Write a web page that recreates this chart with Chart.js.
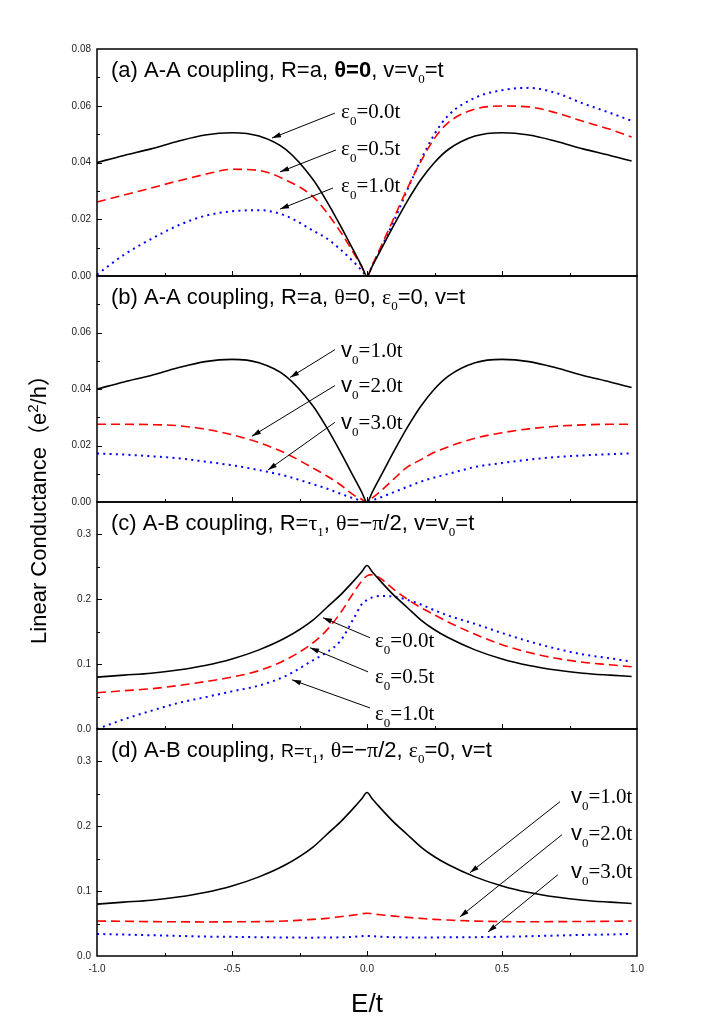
<!DOCTYPE html>
<html>
<head>
<meta charset="utf-8">
<script src="https://cdn.jsdelivr.net/npm/chart.js@4.4.0/dist/chart.umd.min.js"></script>
<style>
body { margin: 0; background: #fff; }
#wrap { position: relative; width: 702px; height: 1025px; }
canvas { position: absolute; left: 0; top: 0; }
</style>
</head>
<body>
<div id="wrap">
<canvas id="pa" width="702" height="1025"></canvas>
<canvas id="pb" width="702" height="1025"></canvas>
<canvas id="pc" width="702" height="1025"></canvas>
<canvas id="pd" width="702" height="1025"></canvas>
</div>
<script>
// E/t sample points (shared by all panels)
const energy = [-1, -0.9, -0.8, -0.7, -0.6, -0.5, -0.4, -0.3, -0.2, -0.15, -0.1, -0.05, -0.02, 0,
                0.02, 0.05, 0.1, 0.15, 0.2, 0.25, 0.3, 0.4, 0.5, 0.6, 0.7, 0.8, 0.9, 0.98];

// (a) A-A coupling, eps0 = 0.0t / 0.5t / 1.0t
const aEps00 = [0.040, 0.0425, 0.0448, 0.0475, 0.0497, 0.0505, 0.0493, 0.0445, 0.034, 0.0265, 0.018, 0.009, 0.0036, 0,
                0.0036, 0.009, 0.018, 0.0265, 0.034, 0.040, 0.0445, 0.0493, 0.0505, 0.0497, 0.0475, 0.0448, 0.0425, 0.0405];
const aEps05 = [0.0261, 0.0285, 0.031, 0.0335, 0.0358, 0.0376, 0.0372, 0.0338, 0.028, 0.0225, 0.0158, 0.0082, 0.0033, 0,
                0.004, 0.010, 0.0205, 0.031, 0.0405, 0.0485, 0.054, 0.0588, 0.0599, 0.0596, 0.0575, 0.0545, 0.0517, 0.049];
const aEps10 = [0.0005, 0.0075, 0.013, 0.0178, 0.0212, 0.0228, 0.0232, 0.0212, 0.016, 0.0133, 0.0095, 0.005, 0.002, 0,
                0.0038, 0.0095, 0.0195, 0.0305, 0.041, 0.050, 0.0565, 0.0628, 0.0655, 0.0663, 0.0645, 0.0608, 0.0575, 0.0547];

// (b) A-A coupling, v0 = 1.0t / 2.0t / 3.0t
const bV1 = aEps00;
const bV2 = [0.0275, 0.0275, 0.0274, 0.027, 0.0258, 0.0238, 0.021, 0.0172, 0.012, 0.0093, 0.0062, 0.0025, 0.001, 0,
             0.0015, 0.0038, 0.0082, 0.0124, 0.015, 0.0176, 0.0195, 0.0226, 0.0245, 0.0259, 0.0268, 0.0273, 0.0275, 0.0275];
const bV3 = [0.0172, 0.0168, 0.0162, 0.0155, 0.0143, 0.013, 0.0113, 0.0092, 0.0063, 0.0048, 0.003, 0.0013, 0.0005, 0,
             0.0006, 0.0016, 0.0035, 0.0054, 0.0072, 0.0087, 0.0099, 0.0124, 0.0138, 0.015, 0.0159, 0.0165, 0.0169, 0.0172];

// (c) A-B coupling, eps0 = 0.0t / 0.5t / 1.0t
const cEps00 = [0.080, 0.083, 0.086, 0.091, 0.098, 0.108, 0.122, 0.141, 0.168, 0.187, 0.206, 0.228, 0.242, 0.252,
                0.242, 0.228, 0.206, 0.187, 0.168, 0.153, 0.141, 0.122, 0.108, 0.098, 0.091, 0.086, 0.083, 0.081];
const cEps05 = [0.056, 0.059, 0.062, 0.067, 0.073, 0.080, 0.090, 0.107, 0.133, 0.152, 0.178, 0.210, 0.228, 0.236,
                0.238, 0.232, 0.215, 0.200, 0.187, 0.176, 0.165, 0.146, 0.130, 0.118, 0.109, 0.103, 0.099, 0.096];
const cEps10 = [0.0, 0.015, 0.028, 0.040, 0.049, 0.058, 0.067, 0.082, 0.106, 0.118, 0.135, 0.170, 0.192, 0.199,
                0.203, 0.205, 0.204, 0.199, 0.192, 0.183, 0.175, 0.162, 0.148, 0.135, 0.124, 0.115, 0.109, 0.104];

// (d) A-B coupling, v0 = 1.0t / 2.0t / 3.0t
const dV1 = cEps00;
const dV2 = [0.054, 0.0535, 0.053, 0.0528, 0.0525, 0.0528, 0.053, 0.054, 0.0565, 0.058, 0.0605, 0.063, 0.065, 0.066,
             0.065, 0.0635, 0.0615, 0.0595, 0.058, 0.0565, 0.0555, 0.0538, 0.053, 0.0528, 0.053, 0.0532, 0.0536, 0.054];
const dV3 = [0.034, 0.033, 0.032, 0.031, 0.030, 0.0295, 0.029, 0.0285, 0.0283, 0.0285, 0.0288, 0.0295, 0.0305, 0.031,
             0.0305, 0.0298, 0.029, 0.0286, 0.0285, 0.0286, 0.0288, 0.029, 0.0297, 0.0305, 0.0315, 0.0325, 0.0332, 0.034];

// tick labels
const xTickLabels = [-1, -0.5, 0, 0.5, 1];
const yTicksA = [0, 0.02, 0.04, 0.06, 0.08];
const yTicksB = [0, 0.02, 0.04, 0.06];
const yTicksCD = [0, 0.1, 0.2, 0.3];

const SANS = '"Liberation Sans", Arial, sans-serif';
const SERIF = '"Liberation Serif", "Times New Roman", serif';
const CJK = '"Noto Sans CJK SC", sans-serif';
const f = (size, fam, w) => (w ? w + ' ' : '') + size + 'px ' + fam;

function rich(ctx, x, y, segs) {
  ctx.textAlign = 'left';
  ctx.textBaseline = 'alphabetic';
  for (const s of segs) {
    ctx.font = s.f;
    ctx.fillText(s.t, x, y + (s.dy || 0));
    x += ctx.measureText(s.t).width;
  }
  return x;
}
function richWidth(ctx, segs) {
  let w = 0;
  for (const s of segs) { ctx.font = s.f; w += ctx.measureText(s.t).width; }
  return w;
}

const T = 22; // panel title size
const sub = (t) => ({ t, f: f(13, SERIF), dy: 6 });
const epsLabel = (val) => [{ t: 'ε', f: f(21, SERIF) }, { t: '0', f: f(13, SERIF), dy: 7 }, { t: '=' + val, f: f(21, SERIF) }];
const vLabel = (val) => [{ t: 'v', f: f(22, SANS) }, { t: '0', f: f(13, SERIF), dy: 7 }, { t: '=' + val, f: f(21, SERIF) }];

const panels = [
  {
    id: 'pa', top: 49, bottom: 276, yMax: 0.08, yTicks: yTicksA, minor: 0.01, dec: 2, showX: false,
    series: [aEps00, aEps05, aEps10],
    title: [
      { t: '(a) A-A coupling, R=a, ', f: f(T, SANS) },
      { t: 'θ=0', f: f(T, SANS, 'bold') },
      { t: ', v=v', f: f(T, SANS) }, sub('0'),
      { t: '=t', f: f(T, SANS) }
    ],
    notes: [
      { label: epsLabel('0.0t'), at: [-0.096, 0.0557], from: [-0.119, 0.0574], to: [-0.352, 0.0486] },
      { label: epsLabel('0.5t'), at: [-0.096, 0.0426], from: [-0.115, 0.0444], to: [-0.322, 0.0367] },
      { label: epsLabel('1.0t'), at: [-0.096, 0.0296], from: [-0.126, 0.0310], to: [-0.322, 0.0236] }
    ]
  },
  {
    id: 'pb', top: 276, bottom: 502, yMax: 0.08, yTicks: yTicksB, minor: 0.01, dec: 2, showX: false,
    series: [bV1, bV2, bV3],
    title: [
      { t: '(b) A-A coupling, R=a, ', f: f(T, SANS) },
      { t: 'θ', f: f(T, SERIF) }, { t: '=0, ', f: f(T, SANS) },
      { t: 'ε', f: f(T, SERIF) }, sub('0'),
      { t: '=0, v=t', f: f(T, SANS) }
    ],
    notes: [
      { label: vLabel('1.0t'), at: [-0.096, 0.0515], from: [-0.119, 0.0539], to: [-0.285, 0.0441] },
      { label: vLabel('2.0t'), at: [-0.096, 0.0388], from: [-0.119, 0.0412], to: [-0.426, 0.0233] },
      { label: vLabel('3.0t'), at: [-0.096, 0.0257], from: [-0.119, 0.0282], to: [-0.367, 0.0113] }
    ]
  },
  {
    id: 'pc', top: 502, bottom: 729, yMax: 0.35, yTicks: yTicksCD, minor: 0.05, dec: 1, showX: false,
    series: [cEps00, cEps05, cEps10],
    title: [
      { t: '(c) A-B coupling, R=', f: f(T, SANS) },
      { t: 'τ', f: f(T, SERIF) }, sub('1'),
      { t: ', ', f: f(T, SANS) }, { t: 'θ', f: f(T, SERIF) },
      { t: '=−', f: f(T, SANS) }, { t: 'π', f: f(T, SERIF) },
      { t: '/2, v=v', f: f(T, SANS) }, sub('0'),
      { t: '=t', f: f(T, SANS) }
    ],
    notes: [
      { label: epsLabel('0.0t'), at: [0.0296, 0.1268], from: [0.011, 0.1407], to: [-0.163, 0.1716] },
      { label: epsLabel('0.5t'), at: [0.0296, 0.0711], from: [0.004, 0.0881], to: [-0.211, 0.1253] },
      { label: epsLabel('1.0t'), at: [0.0296, 0.0139], from: [0.011, 0.0325], to: [-0.278, 0.0758] }
    ]
  },
  {
    id: 'pd', top: 729, bottom: 956, yMax: 0.35, yTicks: yTicksCD, minor: 0.05, dec: 1, showX: true,
    series: [dV1, dV2, dV3],
    title: [
      { t: '(d) A-B coupling, ', f: f(T, SANS) },
      { t: 'R=', f: f(18, SANS) }, { t: 'τ', f: f(19, SERIF) }, sub('1'),
      { t: ', ', f: f(T, SANS) }, { t: 'θ', f: f(T, SERIF) },
      { t: '=−', f: f(T, SANS) }, { t: 'π', f: f(T, SERIF) },
      { t: '/2, ', f: f(T, SANS) }, { t: 'ε', f: f(T, SERIF) }, sub('0'),
      { t: '=0, v=t', f: f(T, SANS) }
    ],
    notes: [
      { label: vLabel('1.0t'), at: [0.7556, 0.2366], from: [0.715, 0.238], to: [0.381, 0.1283] },
      { label: vLabel('2.0t'), at: [0.7556, 0.1794], from: [0.722, 0.187], to: [0.344, 0.0603] },
      { label: vLabel('3.0t'), at: [0.7556, 0.1206], from: [0.707, 0.1253], to: [0.448, 0.0371] }
    ]
  }
];

const styles = [
  { borderColor: '#000000', borderWidth: 1.6, borderDash: [] },
  { borderColor: '#ff0000', borderWidth: 1.6, borderDash: [9, 5] },
  { borderColor: '#0000ff', borderWidth: 2, borderDash: [2, 4.3] }
];

function arrow(ctx, x1, y1, x2, y2) {
  ctx.beginPath();
  ctx.moveTo(x1, y1);
  ctx.lineTo(x2, y2);
  ctx.lineWidth = 1;
  ctx.strokeStyle = '#000';
  ctx.stroke();
  const a = Math.atan2(y2 - y1, x2 - x1);
  const L = 9, W = 2.6;
  ctx.beginPath();
  ctx.moveTo(x2, y2);
  ctx.lineTo(x2 - L * Math.cos(a) + W * Math.sin(a), y2 - L * Math.sin(a) - W * Math.cos(a));
  ctx.lineTo(x2 - L * Math.cos(a) - W * Math.sin(a), y2 - L * Math.sin(a) + W * Math.cos(a));
  ctx.closePath();
  ctx.fillStyle = '#000';
  ctx.fill();
}

const framePlugin = {
  id: 'frame',
  afterDraw(chart, args, opts) {
    const p = opts.panel;
    const { ctx, chartArea: ca } = chart;
    const xs = chart.scales.x, ys = chart.scales.y;
    ctx.save();
    ctx.strokeStyle = '#000';
    ctx.lineWidth = 1.5;
    ctx.strokeRect(ca.left, ca.top, ca.right - ca.left, ca.bottom - ca.top);
    // y ticks, inward
    ctx.lineWidth = 1;
    const n = Math.round(p.yMax / p.minor);
    for (let i = 1; i < n; i++) {
      const v = i * p.minor;
      const y = Math.round(ys.getPixelForValue(v)) + 0.5;
      const len = (i % 2 === 0) ? 5 : 3;
      ctx.beginPath(); ctx.moveTo(ca.left, y); ctx.lineTo(ca.left + len, y); ctx.stroke();
    }
    // x ticks, inward from bottom
    for (let i = 1; i < 8; i++) {
      const v = -1 + i * 0.25;
      const x = Math.round(xs.getPixelForValue(v)) + 0.5;
      const len = (i % 2 === 0) ? 5 : 3;
      ctx.beginPath(); ctx.moveTo(x, ca.bottom); ctx.lineTo(x, ca.bottom - len); ctx.stroke();
    }
    // title
    ctx.fillStyle = '#000';
    rich(ctx, ca.left + 14, ca.top + 28, p.title);
    // annotations
    for (const nt of p.notes) {
      arrow(ctx, xs.getPixelForValue(nt.from[0]), ys.getPixelForValue(nt.from[1]),
                 xs.getPixelForValue(nt.to[0]), ys.getPixelForValue(nt.to[1]));
      ctx.fillStyle = '#000';
      rich(ctx, xs.getPixelForValue(nt.at[0]), ys.getPixelForValue(nt.at[1]), nt.label);
    }
    if (p.showX) {
      // axis titles
      const yt = [
        { t: 'Linear Conductance', f: f(22, SANS) },
        { t: '（', f: f(22, CJK) },
        { t: 'e', f: f(22, SANS) },
        { t: '2', f: f(15, SANS), dy: -8 },
        { t: '/h', f: f(22, SANS) },
        { t: '）', f: f(22, CJK) }
      ];
      const w = richWidth(ctx, yt);
      ctx.save();
      ctx.translate(46, 504);
      ctx.rotate(-Math.PI / 2);
      rich(ctx, -w / 2, 0, yt);
      ctx.restore();
      ctx.font = f(26, SANS);
      ctx.textAlign = 'center';
      ctx.fillText('E/t', xs.getPixelForValue(0), 1012);
    }
    ctx.restore();
  }
};

for (const p of panels) {
  const xh = p.showX ? 22 : 0;
  new Chart(document.getElementById(p.id), {
    type: 'line',
    data: {
      datasets: p.series.map((s, k) => ({
        data: energy.map((e, i) => ({ x: e, y: s[i] })),
        ...styles[k],
        pointRadius: 0,
        fill: false,
        cubicInterpolationMode: 'monotone',
        clip: 3
      }))
    },
    options: {
      responsive: false,
      animation: false,
      devicePixelRatio: 1,
      layout: { padding: { left: 0, right: 702 - 637, top: p.top, bottom: 1025 - p.bottom - xh } },
      plugins: { legend: { display: false }, tooltip: { enabled: false }, frame: { panel: p } },
      scales: {
        x: {
          type: 'linear', min: -1, max: 1,
          grid: { display: false, drawTicks: false }, border: { display: false },
          afterFit: (s) => { s.height = xh; },
          afterBuildTicks: (s) => { s.ticks = xTickLabels.map(v => ({ value: v })); },
          ticks: {
            display: p.showX, padding: 7, color: '#222',
            font: { family: SANS, size: 10 },
            callback: (v) => Number(v).toFixed(1),
            maxRotation: 0, autoSkip: false
          }
        },
        y: {
          type: 'linear', min: 0, max: p.yMax,
          grid: { display: false, drawTicks: false }, border: { display: false },
          afterFit: (s) => { s.width = 97; },
          afterBuildTicks: (s) => { s.ticks = p.yTicks.map(v => ({ value: v })); },
          ticks: {
            padding: 6, color: '#222',
            font: { family: SANS, size: 10 },
            callback: (v) => Number(v).toFixed(p.dec)
          }
        }
      }
    },
    plugins: [framePlugin]
  });
}
</script>
</body>
</html>
